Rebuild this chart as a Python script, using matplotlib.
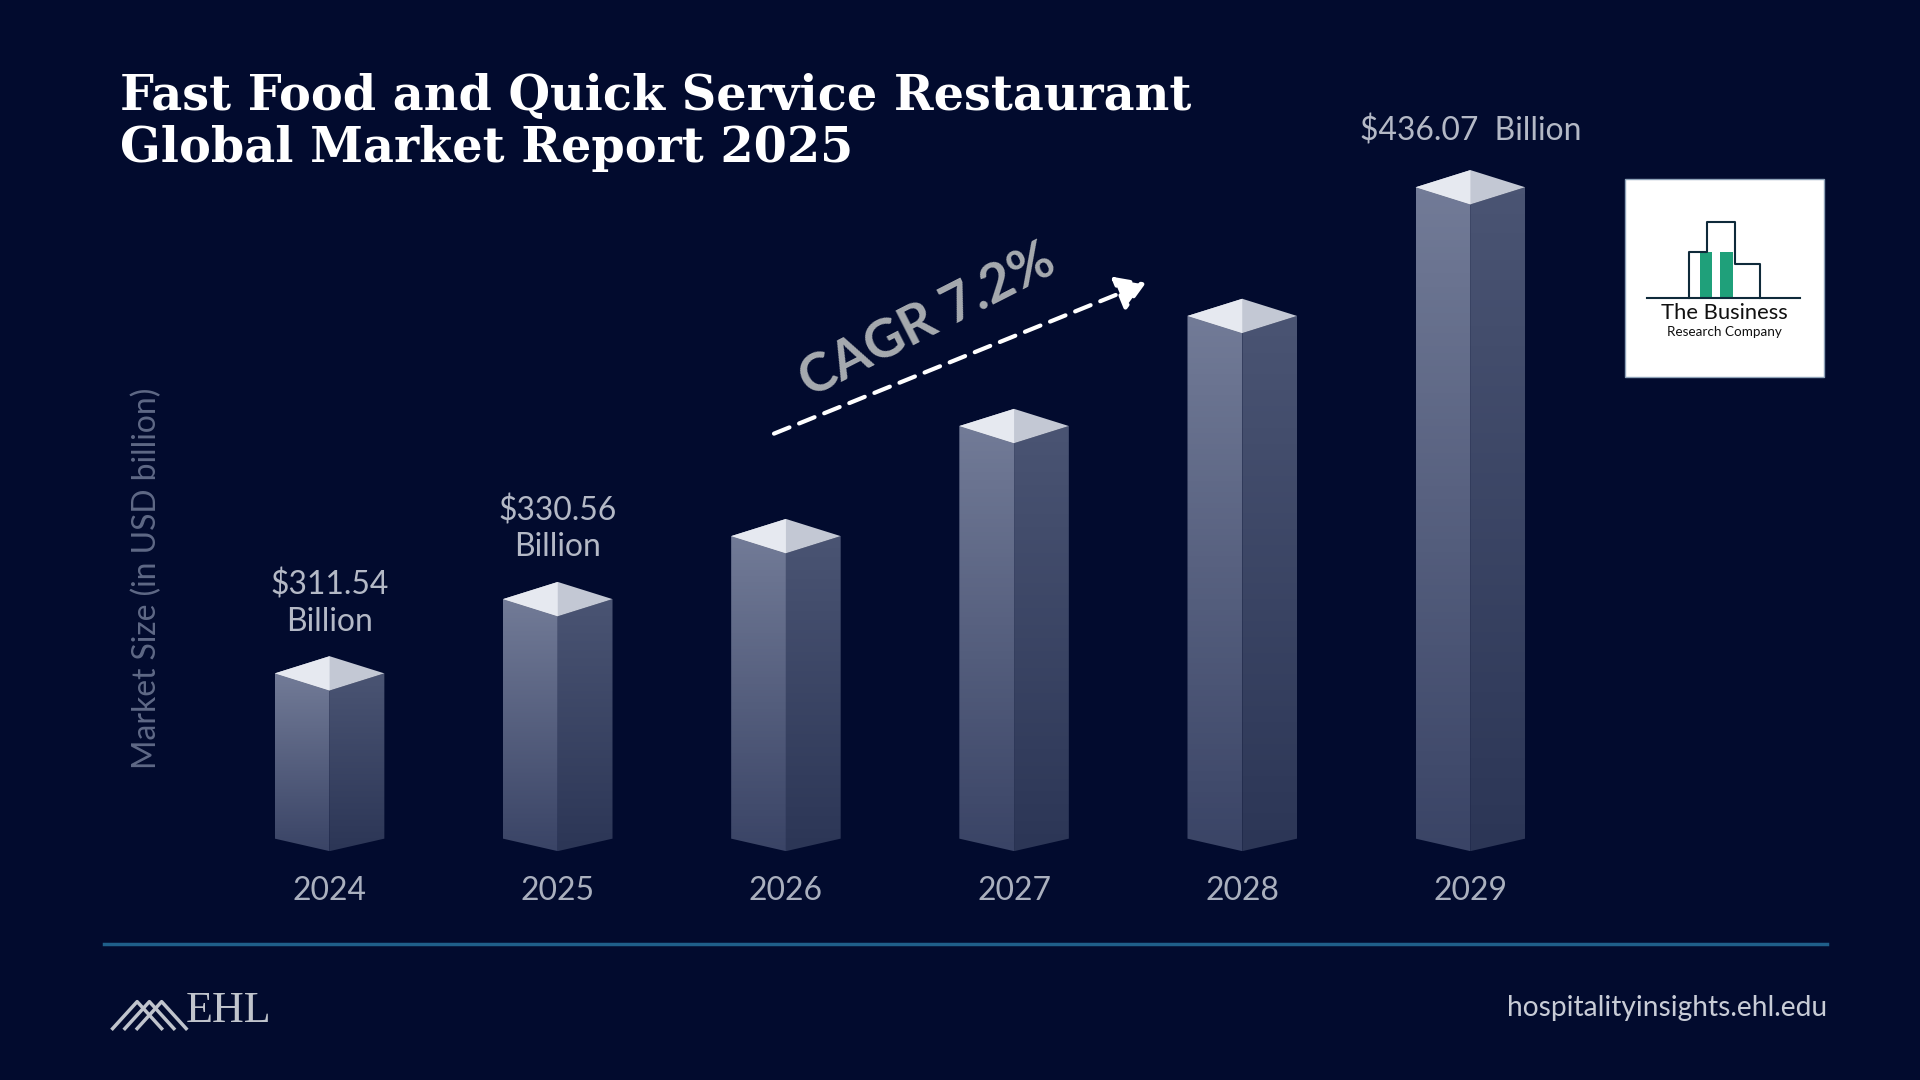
import matplotlib
matplotlib.use("Agg")
import matplotlib.pyplot as plt
import numpy as np
from matplotlib.patches import Polygon, Rectangle, FancyArrowPatch

years = ["2024", "2025", "2026", "2027", "2028", "2029"]
values = [311.54, 330.56, 346.7, 374.9, 403.1, 436.07]
value_labels = {0: "$311.54\nBillion", 1: "$330.56\nBillion", 5: "$436.07  Billion"}
title = "Fast Food and Quick Service Restaurant\nGlobal Market Report 2025"
ylabel = "Market Size (in USD billion)"
cagr_text = "CAGR 7.2%"

W, H = 1568, 882
S = 1920 / W
def fs(px):
    return px * S * 0.72

BG = "#020b2e"
fig = plt.figure(figsize=(19.2, 10.8), dpi=100, facecolor=BG)

ov = fig.add_axes([0, 0, 1, 1], facecolor=BG)
ov.set_xlim(0, W); ov.set_ylim(H, 0); ov.axis("off")

base = 267.6
pxu = 3.188
lo = base - 15
ax = fig.add_axes([176 / W, 1 - (690 + 15 * pxu) / H, (1294 - 176) / W, (450 - lo) * pxu / H])
ax.set_xlim(-0.5, 5.5); ax.set_ylim(lo, 450)
ax.axis("off"); ax.patch.set_alpha(0)

hw = 0.24
dy = 4.4
gradL = np.linspace(0, 1, 100).reshape(-1, 1)
for i, v in enumerate(values):
    left = [(i - hw, base + 1.6), (i, base - 1.6), (i, v - dy), (i - hw, v)]
    right = [(i, base - 1.6), (i + hw, base + 1.6), (i + hw, v), (i, v - dy)]
    top = [(i - hw, v), (i, v - dy), (i + hw, v), (i, v + dy)]
    for poly, cols in ((left, ["#3a4466", "#727b97"]), (right, ["#2c3656", "#4a5473"])):
        p = Polygon(poly, closed=True, facecolor="none", edgecolor="none")
        ax.add_patch(p)
        cm = matplotlib.colors.LinearSegmentedColormap.from_list("g", cols)
        xs = [q[0] for q in poly]; ys = [q[1] for q in poly]
        im = ax.imshow(gradL, extent=(min(xs), max(xs), min(ys), max(ys)), origin="lower",
                       cmap=cm, aspect="auto", zorder=2)
        im.set_clip_path(p)
    ax.add_patch(Polygon(top, closed=True, facecolor="#c3c8d4", edgecolor="none", zorder=3))
    ax.add_patch(Polygon([top[0], top[1], top[3]], closed=True, facecolor="#e6e9f0", edgecolor="none", zorder=3))
ax.set_xlim(-0.5, 5.5); ax.set_ylim(lo, 450)

for i, txt in value_labels.items():
    off = 6 if i == 5 else 5
    ax.text(i, values[i] + dy + off, txt, ha="center", va="bottom", color="#b4b9c6",
            fontsize=fs(26), family="Lato", linespacing=1.25)

for i, y in enumerate(years):
    ax.text(i, base - 11.8, y, ha="center", va="center", color="#aab0be",
            fontsize=fs(26), family="Lato")

ov.text(98, 100, title, ha="left", va="center", color="white", fontsize=fs(39),
        family="DejaVu Serif", fontweight="bold", linespacing=1.15)

ov.text(120, 472, ylabel, rotation=90, ha="center", va="center", color="#5f6986",
        fontsize=fs(26), family="Lato")

ov.text(757, 262, cagr_text, rotation=27, ha="center", va="center", color="#a7abb0",
        fontsize=fs(44), family="Lato", fontweight="bold")
ov.add_patch(FancyArrowPatch((630, 355), (938, 230), arrowstyle="-|>,head_length=8,head_width=5",
                             linestyle=(0, (4, 2.5)), color="white", lw=3, mutation_scale=2.2))

ov.plot([85, 1492], [771, 771], color="#1f5f8a", lw=2.5)

ov.text(152, 826, "EHL", ha="left", va="center", color="#c0c4cc", fontsize=fs(36),
        family="Liberation Serif")
for k in range(3):
    ov.plot([92 + k * 10, 112 + k * 10, 132 + k * 10], [840, 818, 840], color="#c0c4cc", lw=2.5)
ov.text(1492, 823, "hospitalityinsights.ehl.edu", ha="right", va="center", color="#c8ccd6",
        fontsize=fs(23), family="Lato")

ov.add_patch(Rectangle((1327, 146), 163, 162, facecolor="white", edgecolor="#8fa3b8", lw=1))
ov.plot([1345, 1470], [243, 243], color="#0f2a3a", lw=1.5)
ov.plot([1379, 1379, 1394, 1394, 1417, 1417, 1437, 1437],
        [243, 206, 206, 181, 181, 216, 216, 243], color="#0f2a3a", lw=1.5)
ov.add_patch(Rectangle((1388, 206), 10, 37, facecolor="#1fa07a"))
ov.add_patch(Rectangle((1405, 206), 10, 37, facecolor="#1fa07a"))
ov.text(1408, 256, "The Business", ha="center", va="center", color="#111", fontsize=fs(18), family="Lato")
ov.text(1408, 271, "Research Company", ha="center", va="center", color="#111", fontsize=fs(11), family="Lato")

fig.savefig("out.png", dpi=100, facecolor=BG)
